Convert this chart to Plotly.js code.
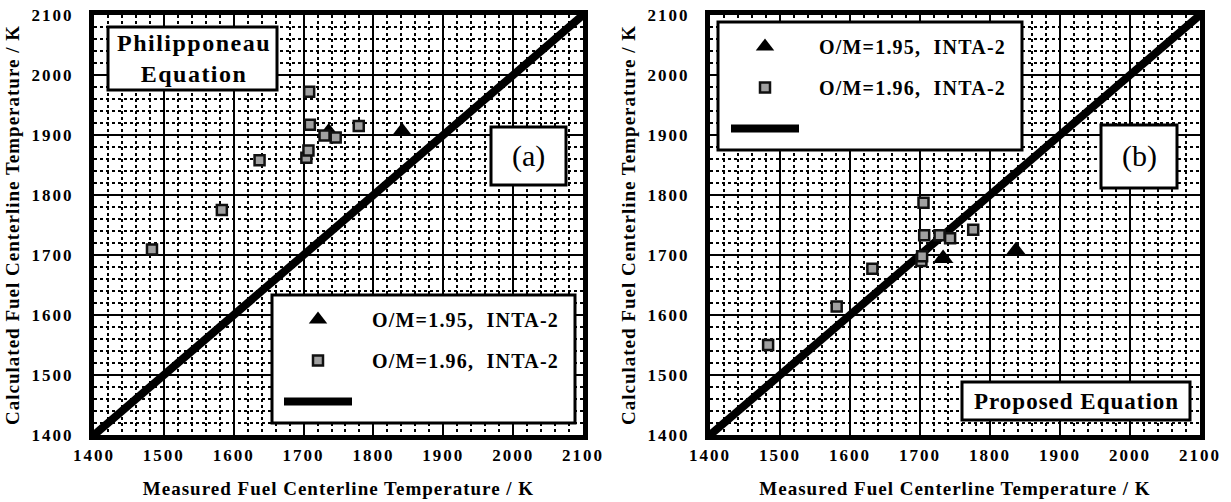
<!DOCTYPE html>
<html><head><meta charset="utf-8">
<script src="https://cdn.plot.ly/plotly-3.0.1.min.js"></script>
<style>html,body{margin:0;padding:0;background:#fff}</style>
</head><body><div id="chart" style="width:1231px;height:502px"></div>
<script>
// ---- data ----
const tickValues = [1400, 1500, 1600, 1700, 1800, 1900, 2000, 2100];
const tickLabels = ['1400', '1500', '1600', '1700', '1800', '1900', '2000', '2100'];
// panel (a) Philipponeau equation
const triXa = [1736, 1841];
const triYa = [1905, 1906];
const sqXa = [1483, 1583, 1637, 1704, 1707, 1708, 1709, 1730, 1746, 1779];
const sqYa = [1709, 1775, 1858, 1862, 1874, 1972, 1917, 1899, 1896, 1915];
// panel (b) proposed equation
const triXb = [1733, 1837];
const triYb = [1694, 1707];
const sqXb = [1483, 1581, 1632, 1702, 1703, 1705, 1706, 1728, 1743, 1776];
const sqYb = [1550, 1614, 1677, 1690, 1698, 1787, 1733, 1733, 1728, 1742];
const lineX = [1400, 2100];
const lineY = [1400, 2100];
const legendLabels = ['O/M=1.95,\u00a0\u00a0INTA-2', 'O/M=1.96,\u00a0\u00a0INTA-2'];
const xTitle = 'Measured Fuel Centerline Temperature / K';
const yTitle = 'Calculated Fuel Centerline Temperature / K';
const panelLabels = ['(a)', '(b)'];
const equationLabels = ['Philipponeau<br>Equation', 'Proposed Equation'];

// ---- helpers ----
const W = 1231, H = 502;
const FONT = 'Liberation Serif, Times New Roman, serif';
const px = v => v / W;
const py = v => 1 - v / H;
const spaced = (s, n) => '<span style="letter-spacing:' + n + 'px">' + s + '</span>';
const legName = s => '\u00a0\u00a0\u00a0' + spaced(s, 1.2);

function traces(suffix, legendName, tX, tY, sX, sY) {
  return [
    {x: lineX, y: lineY, xaxis: 'x' + suffix, yaxis: 'y' + suffix, mode: 'lines',
     line: {color: '#000', width: 8}, name: ' ', legend: legendName,
     legendgroup: legendName + 'c', legendrank: 3, hoverinfo: 'skip'},
    {x: tX, y: tY, xaxis: 'x' + suffix, yaxis: 'y' + suffix, mode: 'markers',
     marker: {symbol: 'triangle-up', size: 18, color: '#000'},
     name: legName(legendLabels[0]), legend: legendName,
     legendgroup: legendName + 'a', legendrank: 1},
    {x: sX, y: sY, xaxis: 'x' + suffix, yaxis: 'y' + suffix, mode: 'markers',
     marker: {symbol: 'square', size: 10, color: '#a0a0a0', line: {color: '#111', width: 2.5}},
     name: legName(legendLabels[1]), legend: legendName,
     legendgroup: legendName + 'b', legendrank: 2}
  ];
}

const data = [].concat(
  traces('', 'legend', triXa, triYa, sqXa, sqYa),
  traces('2', 'legend2', triXb, triYb, sqXb, sqYb)
);

function axis(domain, anchor, isX) {
  return {
    domain: domain, anchor: anchor, range: [1400, 2100],
    tickmode: 'array', tickvals: tickValues,
    ticktext: tickLabels.map(t => spaced(t, 2)),
    tickfont: {family: FONT, size: 17, color: '#000', weight: 'bold'},
    ticks: 'outside', ticklen: isX ? 1 : 12, tickcolor: 'rgba(0,0,0,0)',
    showgrid: true, gridcolor: '#000', gridwidth: 2,
    minor: {tickmode: 'linear', tick0: 1400, dtick: 20, showgrid: true,
            gridcolor: '#000', griddash: 'dot', gridwidth: 2},
    showline: true, mirror: true, linewidth: 5, linecolor: '#000',
    zeroline: false, fixedrange: true,
    title: {text: spaced(isX ? xTitle : yTitle, 1),
            font: {family: FONT, size: 19, color: '#000', weight: 'bold'},
            standoff: isX ? 19 : 8}
  };
}

const legendBase = {xanchor: 'left', yanchor: 'top',
  bgcolor: 'rgba(0,0,0,0)', borderwidth: 0, itemwidth: 68,
  tracegroupgap: 12, traceorder: 'grouped',
  font: {family: FONT, size: 20, color: '#000', weight: 'bold'}};

const yDom = [1 - 435 / H, 1 - 15 / H];
const layout = {
  width: W, height: H,
  margin: {l: 0, r: 0, t: 0, b: 0},
  paper_bgcolor: '#fff', plot_bgcolor: '#fff',
  showlegend: true,
  xaxis: axis([px(94), px(583)], 'y', true),
  yaxis: axis(yDom, 'x', false),
  xaxis2: axis([px(710), px(1200)], 'y2', true),
  yaxis2: axis(yDom, 'x2', false),
  legend: Object.assign({x: px(279), y: py(300)}, legendBase),
  legend2: Object.assign({x: px(726), y: py(27)}, legendBase),
  shapes: [
    [272, 295, 575, 423], [718, 22, 1022, 150],
    [108, 27, 277, 90], [491, 127, 566, 185],
    [1101, 125, 1177, 188], [962, 382, 1190, 420]
  ].map(b => ({type: 'rect', xref: 'paper', yref: 'paper', layer: 'above',
               x0: px(b[0]), x1: px(b[2]), y0: py(b[3]), y1: py(b[1]),
               fillcolor: '#fff', line: {color: '#000', width: 3}})),
  annotations: [
    {x: px(194), y: py(58), text: spaced(equationLabels[0], 1.5),
     font: {family: FONT, size: 24, color: '#000', weight: 'bold'}},
    {x: px(528), y: py(156), text: panelLabels[0],
     font: {family: FONT, size: 30, color: '#000'}},
    {x: px(1139), y: py(156), text: panelLabels[1],
     font: {family: FONT, size: 30, color: '#000'}},
    {x: px(1076), y: py(401), text: spaced(equationLabels[1], 1),
     font: {family: FONT, size: 23, color: '#000', weight: 'bold'}}
  ].map(a => Object.assign({xref: 'paper', yref: 'paper', showarrow: false,
                            xanchor: 'center', yanchor: 'middle'}, a))
};

Plotly.newPlot('chart', data, layout, {displayModeBar: false, staticPlot: true});
</script></body></html>
